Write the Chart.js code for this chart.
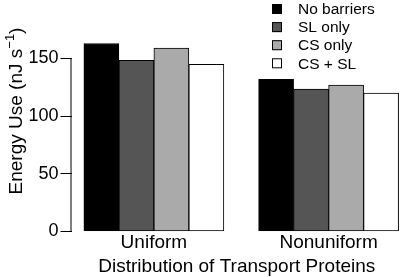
<!DOCTYPE html>
<html>
<head>
<meta charset="utf-8">
<script src="https://cdn.jsdelivr.net/npm/chart.js@4"></script>
<style>
    html, body { margin: 0; padding: 0; background: #fff; }
</style>
</head>
<body>
<canvas id="barChart" width="402" height="277"></canvas>
<script>
// data
const categories = ['Uniform', 'Nonuniform'];
const seriesNames = ['No barriers', 'SL only', 'CS only', 'CS + SL'];
const noBarriers = [163, 132];
const slOnly = [148.5, 123.5];
const csOnly = [159, 127];
const csPlusSl = [145, 120];
const yTicks = [0, 50, 100, 150];
const xTitle = 'Distribution of Transport Proteins';
const yTitle = 'Energy Use (nJ s';
const yTitleSup = '\u22121';

const fills = ['#000000', '#555555', '#aaaaaa', '#ffffff'];
const FONT = '"Liberation Sans", Arial, sans-serif';

const allSeries = [noBarriers, slOnly, csOnly, csPlusSl];

const datasets = allSeries.map((vals, i) => ({
    label: seriesNames[i],
    data: vals.map((v, j) => ({ x: j + 1, y: v })),
    backgroundColor: fills[i],
    borderColor: '#000',
    borderWidth: 1,
    borderSkipped: false,
    barThickness: 35,
}));

// axis line (only 0..150), rotated y title with superscript, legend
const extrasPlugin = {
    id: 'extras',
    afterDraw(chart) {
        const ctx = chart.ctx;
        const y = chart.scales.y;
        const left = chart.chartArea.left;
        ctx.save();
        ctx.strokeStyle = '#000';
        ctx.lineWidth = 1;
        ctx.beginPath();
        ctx.moveTo(left - 0.5, y.getPixelForValue(yTicks[0]) + 0.5);
        ctx.lineTo(left - 0.5, y.getPixelForValue(yTicks[yTicks.length - 1]) - 0.5);
        ctx.stroke();

        // y title
        ctx.fillStyle = '#000';
        ctx.textBaseline = 'alphabetic';
        ctx.font = '19px ' + FONT;
        const wMain = ctx.measureText(yTitle).width;
        ctx.font = '13px ' + FONT;
        const wSup = ctx.measureText(yTitleSup).width;
        ctx.font = '19px ' + FONT;
        const wClose = ctx.measureText(')').width;
        const total = wMain + wSup + wClose;
        ctx.translate(22, 111);
        ctx.rotate(-Math.PI / 2);
        let x0 = -total / 2;
        ctx.textAlign = 'left';
        ctx.fillText(yTitle, x0, 0);
        ctx.font = '13px ' + FONT;
        ctx.fillText(yTitleSup, x0 + wMain, -8);
        ctx.font = '19px ' + FONT;
        ctx.fillText(')', x0 + wMain + wSup, 0);
        ctx.restore();

        // legend
        ctx.save();
        ctx.font = '15.5px ' + FONT;
        ctx.textBaseline = 'middle';
        ctx.textAlign = 'left';
        seriesNames.forEach((name, i) => {
            const cy = 9 + i * 18.1;
            ctx.fillStyle = fills[i];
            ctx.fillRect(272, cy - 5, 10, 10);
            ctx.strokeStyle = '#000';
            ctx.strokeRect(272.5, cy - 4.5, 9, 9);
            ctx.fillStyle = '#000';
            ctx.fillText(name, 298, cy + 1);
        });
        ctx.restore();
    },
};

new Chart(document.getElementById('barChart'), {
    type: 'bar',
    data: { datasets: datasets },
    options: {
        responsive: false,
        animation: false,
        devicePixelRatio: 1,
        layout: { padding: { top: 0, left: 0, right: 0, bottom: 1 } },
        plugins: {
            legend: { display: false },
            tooltip: { enabled: false },
        },
        scales: {
            x: {
                type: 'linear',
                offset: false,
                min: 0.5286,
                max: 2.42,
                afterBuildTicks(scale) {
                    scale.ticks = categories.map((c, i) => ({ value: i + 1 }));
                },
                afterFit(scale) {
                    scale.height = 277 - 1 - 231.5;
                    scale.paddingLeft = 0;
                    scale.paddingRight = 0;
                },
                grid: { display: false, drawTicks: false },
                border: { display: false },
                ticks: {
                    autoSkip: false,
                    maxRotation: 0,
                    padding: 0,
                    color: '#000',
                    font: { family: FONT, size: 19, lineHeight: 1.2 },
                    callback: (v) => categories[v - 1],
                },
                title: {
                    display: true,
                    text: xTitle,
                    color: '#000',
                    padding: { top: 0, bottom: 0 },
                    font: { family: FONT, size: 19, lineHeight: 1.0 },
                },
            },
            y: {
                min: 0,
                max: 200.7,
                afterBuildTicks(scale) {
                    scale.ticks = yTicks.map((v) => ({ value: v }));
                },
                afterFit(scale) {
                    scale.width = 71.5;
                    scale.paddingTop = 0;
                    scale.paddingBottom = 0;
                },
                grid: { drawOnChartArea: false, color: '#000', tickLength: 11 },
                border: { display: false },
                ticks: {
                    padding: 2,
                    color: '#000',
                    font: { family: FONT, size: 18 },
                },
            },
        },
    },
    plugins: [extrasPlugin],
});
</script>
</body>
</html>
